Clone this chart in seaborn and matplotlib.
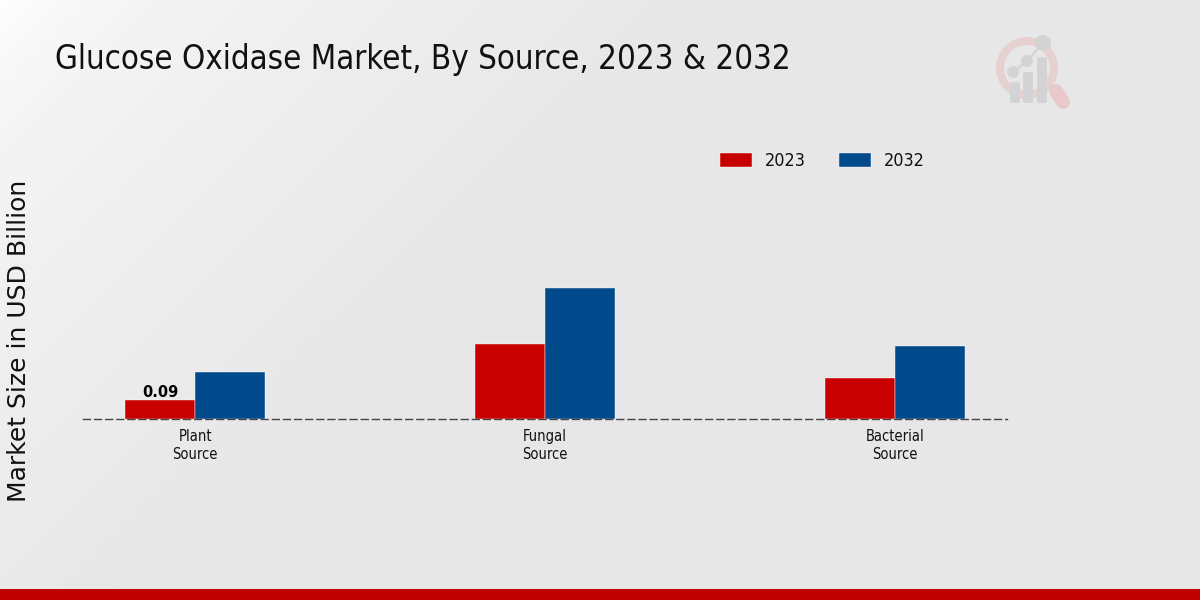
import numpy as np
import pandas as pd
import seaborn as sns
from matplotlib import pyplot as plt
from matplotlib.patches import Circle, FancyBboxPatch, Rectangle, Wedge

sources = ["Plant\nSource", "Fungal\nSource", "Bacterial\nSource"]
years = ["2023", "2032"]
values_2023 = [0.09, 0.355, 0.195]
values_2032 = [0.225, 0.62, 0.345]

colors = {"2023": "#c80000", "2032": "#00498b"}

df = pd.DataFrame({
    "source": sources * 2,
    "year": ["2023"] * 3 + ["2032"] * 3,
    "value": values_2023 + values_2032,
})

sns.set_theme(style="white")
plt.rcParams["font.family"] = ["DejaVu Sans"]

fig = plt.figure(figsize=(12, 6), dpi=100)

# background, pixel coords so the logo and footer are easy to place
bg = fig.add_axes([0, 0, 1, 1], zorder=0)
xx, yy = np.meshgrid(np.linspace(0, 1, 240), np.linspace(0, 1, 120))
shade = np.clip((xx + yy * 0.5) / 0.6, 0, 1) ** 0.5
bg.imshow(1 - 0.095 * shade, cmap="gray", vmin=0, vmax=1, extent=(0, 1200, 600, 0), aspect="auto")
bg.add_patch(Rectangle((0, 589), 1200, 11, color="#c00000", lw=0))

# faded logo
ring = "#e6d0d0"
grey = "#d3d3d5"
bg.add_patch(Wedge((1027, 68), 31, 0, 360, width=8, color=ring, lw=0))
bg.plot([1056, 1063], [91, 102], color="#e8c8c8", lw=10, solid_capstyle="round")
bg.plot([1013, 1027, 1043], [72, 61, 43], color=grey, lw=1.5)
for cx, cy, r in [(1013, 72, 6), (1027, 61, 6), (1043, 43, 8)]:
    bg.add_patch(Circle((cx, cy), r, color=grey, lw=0))
for left, top in [(1010, 82), (1023, 72), (1037, 57)]:
    bg.add_patch(FancyBboxPatch((left + 2, top + 2), 6, 103 - top - 4,
                                boxstyle="round,pad=2", color=grey, lw=0))
bg.set_xlim(0, 1200)
bg.set_ylim(600, 0)
bg.axis("off")

ax = fig.add_axes([83 / 1200, 1 - 419 / 600, 924 / 1200, 299 / 600], zorder=1)
ax.patch.set_alpha(0)
sns.barplot(data=df, x="source", y="value", hue="year", hue_order=years,
            palette=colors, width=0.4, gap=0, saturation=1,
            edgecolor="white", linewidth=0.3, ax=ax)

ax.set_xlim(-0.32, 2.32)
ax.set_ylim(0, 299 * 0.09 / 19)
ax.set_xlabel("")
ax.set_ylabel("")
ax.set_yticks([])
for side in ["top", "left", "right"]:
    ax.spines[side].set_visible(False)
ax.spines["bottom"].set_linestyle((0, (5, 3)))
ax.spines["bottom"].set_color("#444444")
ax.spines["bottom"].set_linewidth(1)
ax.spines["bottom"].set_zorder(5)
ax.tick_params(axis="x", length=4, width=0.8, color="#444444", pad=3)
for lab in ax.get_xticklabels():
    lab.set_fontsize(10.5)
    lab.set_stretch("condensed")
    lab.set_color("#111111")
    lab.set_linespacing(1.3)

first = ax.containers[0]
ax.bar_label(first, labels=["0.09", "", ""], fontsize=10.5, fontweight="bold", color="black", padding=0)

handles, labels = ax.get_legend_handles_labels()
leg = ax.legend(handles, labels, loc="center left", bbox_to_anchor=(0.689, 0.8627),
                ncol=2, frameon=False, fontsize=12.9, handlelength=1.8, handleheight=0.79,
                columnspacing=1.85, handletextpad=0.73, borderpad=0, borderaxespad=0)
for t in leg.get_texts():
    t.set_stretch("condensed")
    t.set_color("#111111")

fig.text(55 / 1200, 1 - 59 / 600, "Glucose Oxidase Market, By Source, 2023 & 2032",
         fontsize=23.65, stretch="condensed", color="#111111", va="center", ha="left", zorder=3)
fig.text(19 / 1200, 1 - 341 / 600, "Market Size in USD Billion",
         fontsize=18, color="#111111", rotation=90, va="center", ha="center", zorder=3)

fig.savefig("out.png", dpi=100)
